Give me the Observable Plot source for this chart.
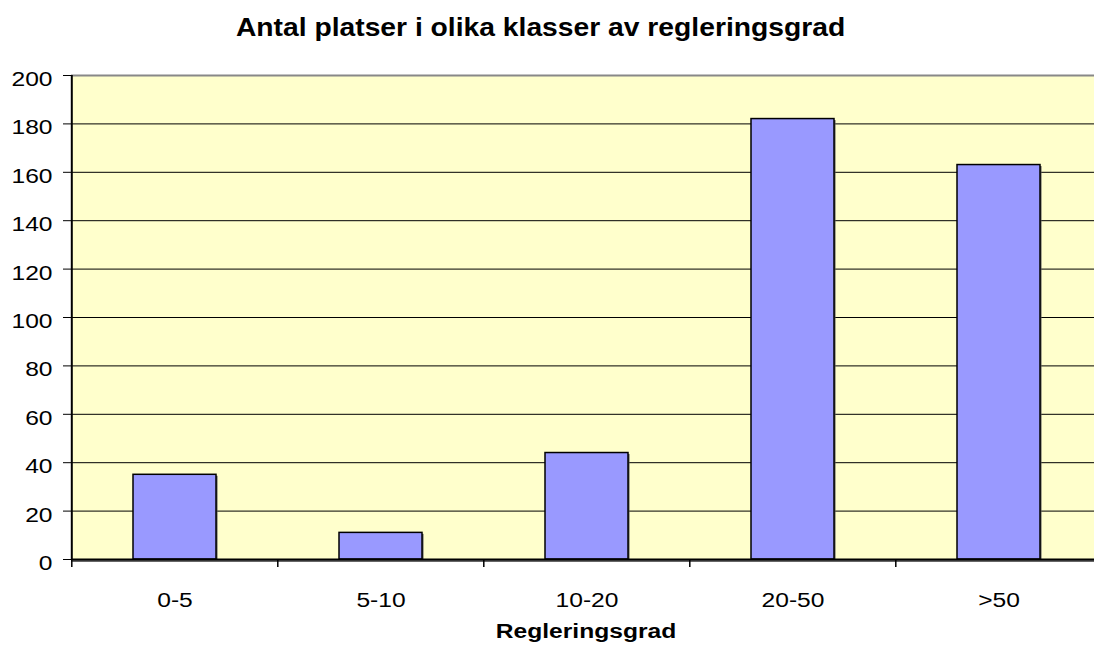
<!DOCTYPE html>
<html>
<head>
<meta charset="utf-8">
<script src="https://cdn.jsdelivr.net/npm/d3@7"></script>
<script src="https://cdn.jsdelivr.net/npm/@observablehq/plot@0.6"></script>
<style>
  html, body { margin: 0; padding: 0; background: #fff; }
  body { width: 1094px; height: 649px; overflow: hidden; font-family: "Liberation Sans", Arial, sans-serif; }
  #title { height: 60px; box-sizing: border-box; padding-top: 15px; width: 1082px; text-align: center; }
  #title span { display: inline-block; font-size: 25px; line-height: 25px; font-weight: bold; transform: scaleX(1.13); transform-origin: center; color: #000; }
  svg { display: block; }
</style>
</head>
<body>
<div id="title"><span>Antal platser i olika klasser av regleringsgrad</span></div>
<div id="chart"></div>
<script>
const categories = ["0-5", "5-10", "10-20", "20-50", ">50"];
const counts = [35, 11, 44, 182, 163];
const yTicks = [0, 20, 40, 60, 80, 100, 120, 140, 160, 180, 200];
const xLabel = "Regleringsgrad";

const data = categories.map((c, i) => ({klass: c, antal: counts[i]}));
const xRange = [71, 1103];
const step = (xRange[1] - xRange[0]) / categories.length;

const chart = Plot.plot({
  width: 1094,
  height: 589,
  marginTop: 15,
  marginLeft: 71,
  marginRight: 0,
  marginBottom: 90,
  style: {fontFamily: "'Liberation Sans', Arial, sans-serif", background: "white", color: "black", overflow: "visible"},
  x: {domain: categories, range: xRange, paddingInner: 0.595, paddingOuter: 0.2975, label: null},
  y: {domain: [0, 200], label: null},
  marks: [
    Plot.frame({fill: "#FFFFCC", stroke: null}),
    Plot.ruleY(yTicks.filter(v => v > 0 && v < 200), {stroke: "black", strokeWidth: 1}),
    Plot.ruleY([200], {stroke: "#888", strokeWidth: 2}),
    Plot.barY(data, {x: "klass", y: "antal", fill: "#555", dx: 1.5, dy: 1.5}),
    Plot.barY(data, {x: "klass", y: "antal", fill: "#9999FF", stroke: "black", strokeWidth: 1.5}),
    Plot.ruleY([0], {stroke: "#666", strokeWidth: 2, dy: 1.5}),
    Plot.ruleY([0], {stroke: "black", strokeWidth: 2}),
    Plot.ruleX([categories[0]], {x: d => d, dx: -step / 2, y1: 200, y2: 0, stroke: "black", strokeWidth: 2}),
    Plot.ruleX(categories, {x: d => d, dx: -step / 2, y1: 0, y2: 0, insetBottom: -8, stroke: "black", strokeWidth: 1.5}),
    Plot.axisY({ticks: yTicks, tickSize: 8, tickFormat: () => "", label: null}),
    Plot.axisY({ticks: yTicks, tickSize: 0, tickPadding: 19, fontSize: 20, tickFormat: d => String(d), label: null, dy: 4}),
    Plot.axisX({tickSize: 0, tickPadding: 33, fontSize: 20, label: null}),
    Plot.text([xLabel], {text: d => d, frameAnchor: "bottom", dx: 3, dy: 78, fontSize: 20, fontWeight: "bold", fill: "black"})
  ]
});

// widen the text horizontally like the original (stretched) rendering
const S = 1.23;
for (const t of chart.querySelectorAll("text")) {
  const tr = t.getAttribute("transform") || "";
  t.setAttribute("transform", `${tr} scale(${S},1)`);
}

document.getElementById("chart").appendChild(chart);
</script>
</body>
</html>
